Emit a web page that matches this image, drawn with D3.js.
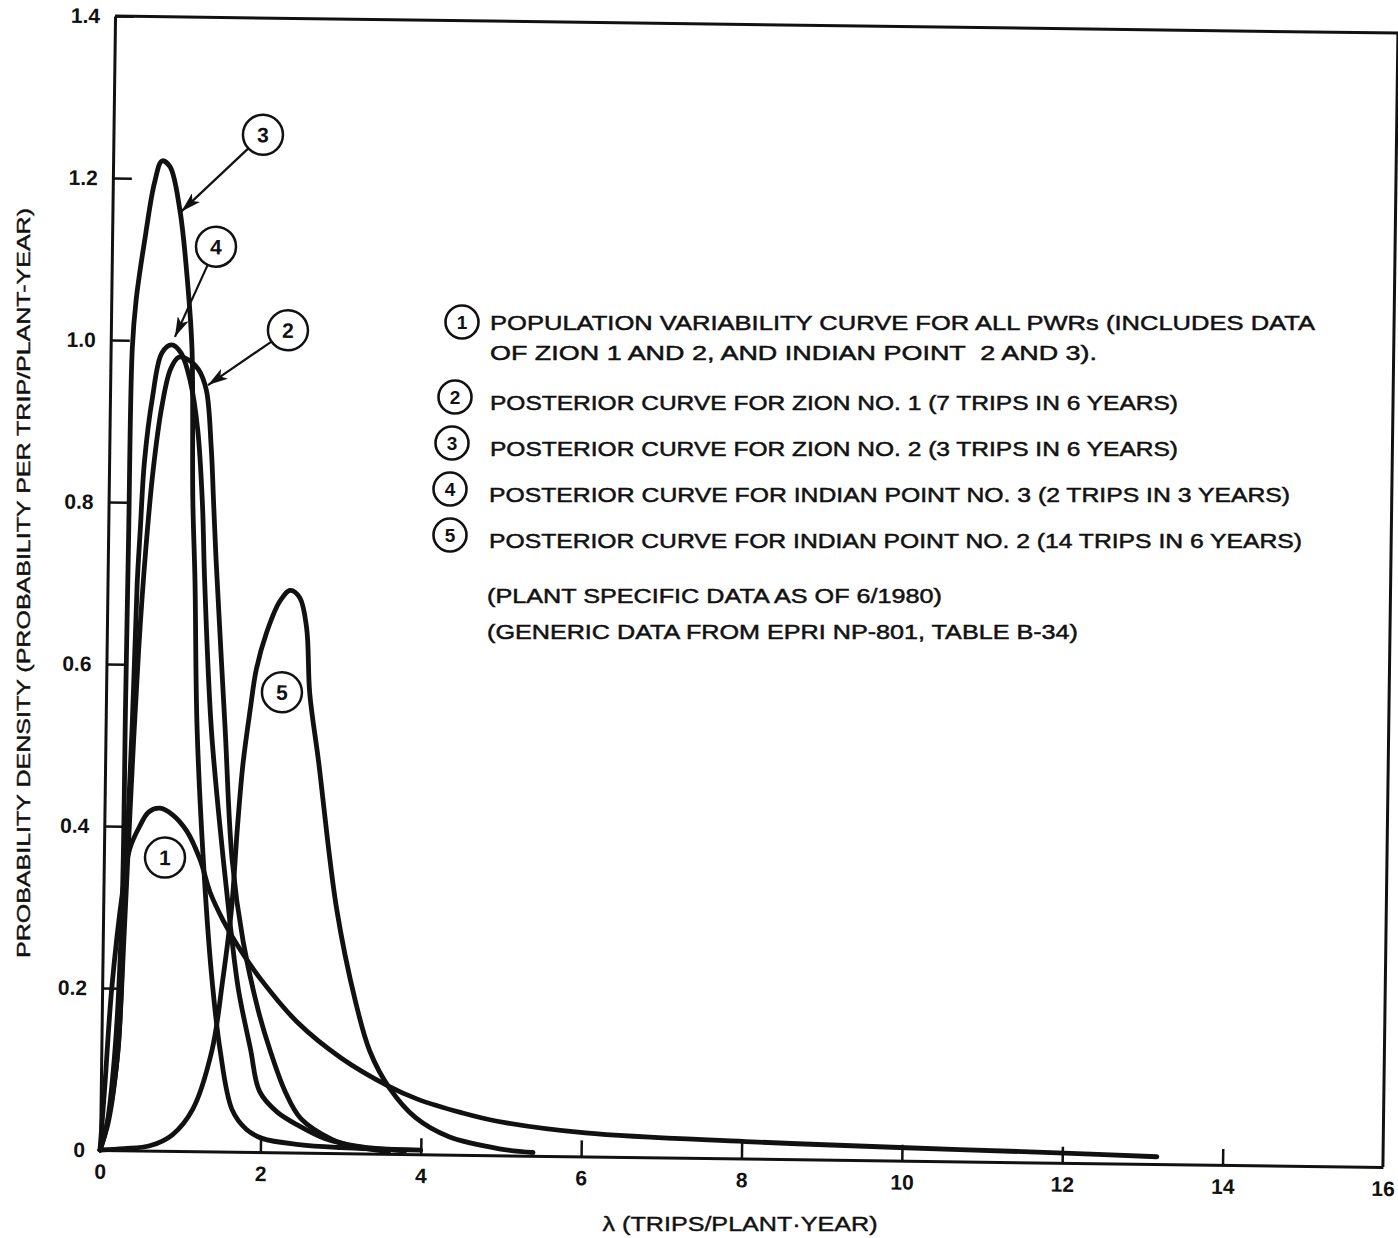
<!DOCTYPE html>
<html>
<head>
<meta charset="utf-8">
<script src="https://cdn.jsdelivr.net/npm/d3@7"></script>
<style>
  body { margin: 0; background: #fff; }
  svg { display: block; }
  .tick text { font-family: "Liberation Sans", Arial, sans-serif; font-weight: bold; font-size: 21px; fill: #111; }
  .lbl { font-family: "Liberation Sans", Arial, sans-serif; fill: #111; }
</style>
</head>
<body>
<svg id="chart" width="1398" height="1238"></svg>
<script>
// ---------------- DATA ----------------
const xTicks = [0, 2, 4, 6, 8, 10, 12, 14, 16];
const xTickLabels = ["0", "2", "4", "6", "8", "10", "12", "14", "16"];
const yTicks = [0, 0.2, 0.4, 0.6, 0.8, 1.0, 1.2, 1.4];
const yTickLabels = ["0", "0.2", "0.4", "0.6", "0.8", "1.0", "1.2", "1.4"];

// (1) population variability curve for all PWRs
const curve1 = [[0,0],[0.05,0.08],[0.12,0.2],[0.24,0.32],[0.32,0.372],[0.44,0.40],[0.55,0.418],[0.69,0.423],
  [0.85,0.415],[1.03,0.395],[1.2,0.36],[1.33,0.32],[1.5,0.285],[1.7,0.252],[1.98,0.213],[2.45,0.16],
  [3.0,0.117],[3.58,0.084],[3.95,0.068],[4.5,0.052],[4.95,0.042],[6.05,0.029],[8.05,0.021],[10.05,0.016],
  [12.03,0.012],[13.18,0.009]];
// (2) posterior, Zion No. 1
const curve2 = [[0,0],[0.1,0.035],[0.2,0.115],[0.27,0.28],[0.33,0.45],[0.4,0.62],[0.47,0.74],[0.55,0.84],
  [0.65,0.92],[0.75,0.965],[0.85,0.98],[0.97,0.977],[1.1,0.965],[1.2,0.94],[1.27,0.87],[1.31,0.8],
  [1.35,0.73],[1.49,0.523],[1.6,0.36],[1.75,0.26],[1.95,0.175],[2.1,0.127],[2.3,0.075],[2.5,0.042],
  [2.89,0.017],[3.2,0.008],[3.6,0.003]];
// (3) posterior, Zion No. 2
const curve3 = [[0,0],[0.08,0.03],[0.17,0.123],[0.235,0.30],[0.245,0.55],[0.255,0.75],[0.27,0.99],
  [0.31,1.05],[0.42,1.133],[0.52,1.195],[0.61,1.222],[0.71,1.215],[0.84,1.162],[0.954,1.067],
  [1.015,0.99],[1.05,0.804],[1.09,0.705],[1.14,0.524],[1.24,0.36],[1.36,0.22],[1.48,0.126],
  [1.64,0.052],[1.82,0.028],[2.02,0.017],[2.48,0.01],[3.0,0.007],[4.0,0.005]];
// (4) posterior, Indian Point No. 3
const curve4 = [[0,0],[0.1,0.04],[0.21,0.125],[0.26,0.30],[0.33,0.52],[0.37,0.7],[0.40,0.767],
  [0.44,0.85],[0.53,0.93],[0.64,0.985],[0.76,0.995],[0.88,0.985],[1.0,0.95],[1.1,0.89],[1.17,0.8],
  [1.21,0.706],[1.32,0.52],[1.49,0.36],[1.6,0.27],[1.7,0.2],[1.86,0.127],[1.98,0.075],[2.2,0.05],
  [2.48,0.033],[2.8,0.018],[3.2,0.009],[3.8,0.004]];
// (5) posterior, Indian Point No. 2
const curve5 = [[0,0],[0.3,0.002],[0.62,0.006],[0.9,0.02],[1.15,0.052],[1.38,0.125],[1.5,0.21],
  [1.6,0.3],[1.66,0.4],[1.72,0.48],[1.8,0.546],[1.87,0.596],[1.99,0.641],[2.15,0.68],[2.28,0.694],
  [2.4,0.685],[2.49,0.648],[2.54,0.567],[2.66,0.484],[2.91,0.302],[3.16,0.188],[3.35,0.126],
  [3.6,0.081],[3.93,0.045],[4.35,0.022],[4.98,0.008],[5.4,0.004]];

const curves = [curve1, curve2, curve3, curve4, curve5];

// curve labels on the plot: [label, lambda, density]
const curveLabels = [["1",0.762,0.362],["2",2.208,1.015],["3",1.864,1.256],["4",1.297,1.117],["5",2.193,0.568]];
// arrows from labels to curves: [label, tip lambda, tip density]
const arrows = [["3",0.86,1.16],["4",0.80,1.005],["2",1.22,0.946]];

// legend
const legendNums = ["1", "2", "3", "4", "5"];
const legendLines = [
  "POPULATION VARIABILITY CURVE FOR ALL PWRs (INCLUDES DATA",
  "OF ZION 1 AND 2, AND INDIAN POINT  2 AND 3).",
  "POSTERIOR CURVE FOR ZION NO. 1 (7 TRIPS IN 6 YEARS)",
  "POSTERIOR CURVE FOR ZION NO. 2 (3 TRIPS IN 6 YEARS)",
  "POSTERIOR CURVE FOR INDIAN POINT NO. 3 (2 TRIPS IN 3 YEARS)",
  "POSTERIOR CURVE FOR INDIAN POINT NO. 2 (14 TRIPS IN 6 YEARS)"
];
const noteLines = ["(PLANT SPECIFIC DATA AS OF 6/1980)", "(GENERIC DATA FROM EPRI NP-801, TABLE B-34)"];
const xTitle = "\u03bb (TRIPS/PLANT\u00b7YEAR)";
const yTitle = "PROBABILITY DENSITY (PROBABILITY PER TRIP/PLANT-YEAR)";

// ---------------- LAYOUT ----------------
const svg = d3.select("#chart");
const x = d3.scaleLinear().domain([0, 16]).range([0, 1283]);
const y = d3.scaleLinear().domain([0, 1.4]).range([0, -1134]);

const g = svg.append("g").attr("transform", "translate(100,1150) rotate(0.76)");

// axes
const xAxis = d3.axisBottom(x).tickValues(xTicks).tickFormat((d, i) => xTickLabels[i])
  .tickSizeInner(-16).tickSizeOuter(0).tickPadding(14);
const yAxis = d3.axisLeft(y).tickValues(yTicks).tickFormat((d, i) => yTickLabels[i])
  .tickSizeInner(-19).tickSizeOuter(0).tickPadding(15);

const gx = g.append("g").call(xAxis);
const gy = g.append("g").call(yAxis);
[gx, gy].forEach(a => {
  a.select(".domain").attr("stroke", "#111").attr("stroke-width", 3);
  a.selectAll(".tick line").attr("stroke", "#111").attr("stroke-width", 2.5);
});
gy.selectAll(".tick").filter(d => d === 0).select("line").remove();
gx.selectAll(".tick").filter(d => d === 0 || d === 16).select("line").remove();

// frame (top and right)
g.append("path")
  .attr("d", d3.line()([[x(0), y(1.4)], [x(16), y(1.4)], [x(16), y(0)]]))
  .attr("fill", "none").attr("stroke", "#111").attr("stroke-width", 3);

// curves
const line = d3.line().x(d => x(d[0])).y(d => y(d[1])).curve(d3.curveCatmullRom.alpha(0.5));
g.selectAll("path.curve").data(curves).join("path")
  .attr("class", "curve")
  .attr("d", line)
  .attr("fill", "none").attr("stroke", "#111").attr("stroke-width", 4.8)
  .attr("stroke-linejoin", "round").attr("stroke-linecap", "round");

// arrowhead marker
svg.append("defs").append("marker")
  .attr("id", "ah").attr("viewBox", "0 0 20 12").attr("refX", 20).attr("refY", 6)
  .attr("markerWidth", 20).attr("markerHeight", 12).attr("markerUnits", "userSpaceOnUse")
  .attr("orient", "auto")
  .append("path").attr("d", "M0,0 L20,6 L0,12 L5,6 Z").attr("fill", "#111");

const R = 20;
const labelPos = Object.fromEntries(curveLabels.map(d => [d[0], [x(d[1]), y(d[2])]]));
arrows.forEach(([k, lx, ly]) => {
  const [cx, cy] = labelPos[k];
  const tx = x(lx), ty = y(ly);
  const dx = tx - cx, dy = ty - cy, L = Math.hypot(dx, dy);
  g.append("line")
    .attr("x1", cx + dx / L * R).attr("y1", cy + dy / L * R)
    .attr("x2", tx).attr("y2", ty)
    .attr("stroke", "#111").attr("stroke-width", 2.2)
    .attr("marker-end", "url(#ah)");
});

const cl = g.selectAll("g.clab").data(curveLabels).join("g")
  .attr("class", "clab")
  .attr("transform", d => `translate(${x(d[1])},${y(d[2])})`);
cl.append("circle").attr("r", R).attr("fill", "#fff").attr("stroke", "#111").attr("stroke-width", 2.5);
cl.append("text").attr("class", "lbl").attr("text-anchor", "middle").attr("dy", "0.36em")
  .attr("font-size", 21).attr("font-weight", "bold").text(d => d[0]);

// legend (absolute page coordinates)
const legendCircles = [[462, 322], [455, 397], [452, 443], [450, 489], [450, 535]];
const lc = svg.selectAll("g.leg").data(legendNums).join("g")
  .attr("class", "leg")
  .attr("transform", (d, i) => `translate(${legendCircles[i][0]},${legendCircles[i][1]})`);
lc.append("circle").attr("r", 16.5).attr("fill", "#fff").attr("stroke", "#111").attr("stroke-width", 2.6);
lc.append("text").attr("class", "lbl").attr("text-anchor", "middle").attr("dy", "0.36em")
  .attr("font-size", 19).attr("font-weight", "bold").text(d => d);

const legendText = [
  [490, 330, 825], [490, 360, 607], [490, 410, 688], [490, 456, 688], [489, 502, 801], [489, 548, 813]
];
svg.selectAll("text.legt").data(legendLines).join("text")
  .attr("class", "lbl legt")
  .attr("x", (d, i) => legendText[i][0]).attr("y", (d, i) => legendText[i][1])
  .attr("textLength", (d, i) => legendText[i][2]).attr("lengthAdjust", "spacingAndGlyphs")
  .attr("font-size", 21).attr("stroke", "#111").attr("stroke-width", 0.5)
  .style("white-space", "pre")
  .text(d => d);

const noteText = [[487, 603, 455], [487, 639, 591]];
svg.selectAll("text.note").data(noteLines).join("text")
  .attr("class", "lbl note")
  .attr("x", (d, i) => noteText[i][0]).attr("y", (d, i) => noteText[i][1])
  .attr("textLength", (d, i) => noteText[i][2]).attr("lengthAdjust", "spacingAndGlyphs")
  .attr("font-size", 21).attr("stroke", "#111").attr("stroke-width", 0.5)
  .text(d => d);

// axis titles
svg.append("text").attr("class", "lbl")
  .attr("transform", "translate(30,583) rotate(-90)")
  .attr("text-anchor", "middle").attr("font-size", 19)
  .attr("textLength", 750).attr("lengthAdjust", "spacingAndGlyphs")
  .attr("stroke", "#111").attr("stroke-width", 0.4)
  .text(yTitle);

svg.append("text").attr("class", "lbl")
  .attr("x", 740).attr("y", 1231)
  .attr("text-anchor", "middle").attr("font-size", 20)
  .attr("textLength", 275).attr("lengthAdjust", "spacingAndGlyphs")
  .attr("stroke", "#111").attr("stroke-width", 0.4)
  .text(xTitle);
</script>
</body>
</html>
